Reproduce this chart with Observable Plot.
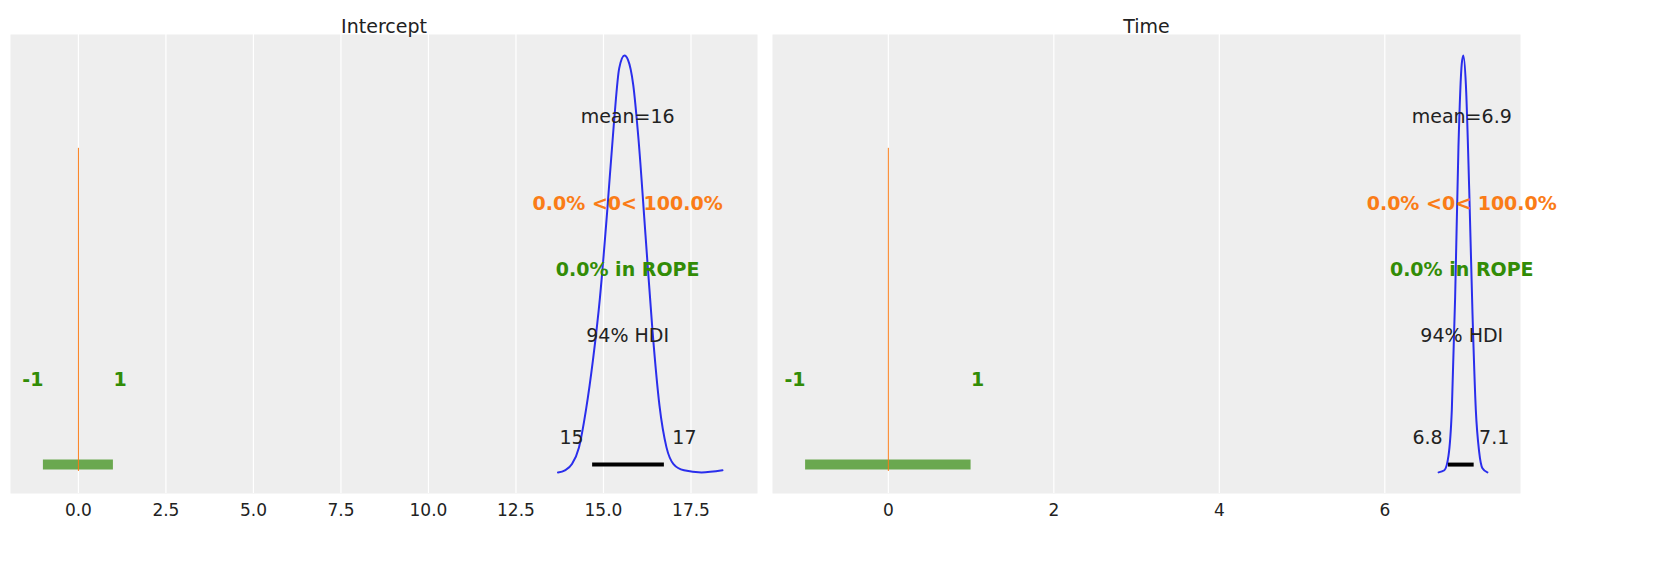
<!DOCTYPE html>
<html>
<head>
<meta charset="utf-8">
<script src="https://cdn.jsdelivr.net/npm/d3@7"></script>
<script src="https://cdn.jsdelivr.net/npm/@observablehq/plot@0.6"></script>
<style>
  body { margin: 0; background: #fff; }
  #wrap { display: flex; }
  svg { font-family: "DejaVu Sans", sans-serif; overflow: visible; }
</style>
</head>
<body>
<div id="wrap"></div>
<script>
// density curves (x, relative height)
const interceptDensity = [
  [13.7, 0.0], [13.9, 0.005], [14.1, 0.02], [14.3, 0.06], [14.5, 0.15], [14.7, 0.27],
  [14.9, 0.42], [15.1, 0.62], [15.3, 0.84], [15.45, 0.97], [15.6, 1.0], [15.7, 0.99],
  [15.85, 0.93], [16.0, 0.8], [16.2, 0.57], [16.4, 0.34], [16.6, 0.16], [16.8, 0.06],
  [17.0, 0.02], [17.3, 0.005], [17.8, 0.0], [18.4, 0.005]
];
const timeDensity = [
  [6.65, 0.0], [6.72, 0.005], [6.77, 0.04], [6.81, 0.15], [6.85, 0.42], [6.89, 0.78],
  [6.93, 0.98], [6.95, 1.0], [6.98, 0.93], [7.02, 0.68], [7.06, 0.38], [7.1, 0.15],
  [7.14, 0.05], [7.18, 0.01], [7.24, 0.0]
];
const panels = ["Intercept", "Time"];
const means = [15.69, 6.93];
const meanLabels = ["mean=16", "mean=6.9"];
const hdiLow = [14.69, 6.77];
const hdiHigh = [16.74, 7.08];
const hdiLowLabels = ["15", "6.8"];
const hdiHighLabels = ["17", "7.1"];
const rope = [-1, 1];
const refLabel = "0.0% <0< 100.0%";
const ropeLabel = "0.0% in ROPE";
const xDomains = [[-1.94, 19.4], [-1.4, 7.64]];
const xTicks = [[0, 2.5, 5, 7.5, 10, 12.5, 15, 17.5], [0, 2, 4, 6]];
const densities = [interceptDensity, timeDensity];

const blue = "#2a2eec", orange = "#fa7c17", green = "#328c06", ink = "#222";

function panel(i, width, ml, mr) {
  const dens = densities[i].map(([x, d]) => ({x, y: 0.046 + 0.908 * d}));
  return Plot.plot({
    width, height: 563,
    marginLeft: ml, marginRight: mr, marginTop: 34, marginBottom: 70,
    x: {domain: xDomains[i]},
    y: {domain: [0, 1], axis: null},
    style: {fontSize: "17px", color: ink, overflow: "visible"},
    marks: [
      Plot.frame({fill: "#eeeeee", stroke: null}),
      Plot.gridX(xTicks[i], {stroke: "#fff", strokeOpacity: 1, strokeWidth: 1.2}),
      Plot.axisX(xTicks[i], {tickSize: 0, tickPadding: 10, fontSize: 17, fill: ink,
        tickFormat: i === 0 ? d3.format(".1f") : d3.format("d"), label: null}),
      Plot.text([panels[i]], {frameAnchor: "top", dy: -15, fontSize: 19, fill: ink}),
      Plot.ruleY([0.063], {x1: rope[0], x2: rope[1], stroke: "#6aa84f", strokeWidth: 10}),
      Plot.text([rope[0]], {x: d => d, y: 0.248, text: d => String(d), textAnchor: "end",
        fill: green, fontWeight: "bold", fontSize: 19}),
      Plot.text([rope[1]], {x: d => d, y: 0.248, text: d => String(d), textAnchor: "start",
        fill: green, fontWeight: "bold", fontSize: 19}),
      Plot.ruleX([0], {y1: 0.048, y2: 0.752, stroke: orange, strokeWidth: 1}),
      Plot.line(dens, {x: "x", y: "y", stroke: blue, strokeWidth: 2, curve: "monotone-x"}),
      Plot.ruleY([0.063], {x1: hdiLow[i], x2: hdiHigh[i], stroke: "#000", strokeWidth: 4}),
      Plot.text([hdiLowLabels[i]], {x: hdiLow[i], y: 0.122, dx: -21, fill: ink, fontSize: 19}),
      Plot.text([hdiHighLabels[i]], {x: hdiHigh[i], y: 0.122, dx: 20, fill: ink, fontSize: 19}),
      Plot.text([meanLabels[i]], {x: means[i], y: 0.821, fill: ink, fontSize: 19}),
      Plot.text([refLabel], {x: means[i], y: 0.632, fill: orange, fontWeight: "bold", fontSize: 19}),
      Plot.text([ropeLabel], {x: means[i], y: 0.488, fill: green, fontWeight: "bold", fontSize: 19}),
      Plot.text(["94% HDI"], {x: means[i], y: 0.344, fill: ink, fontSize: 19})
    ]
  });
}

const wrap = document.getElementById("wrap");
wrap.append(panel(0, 765, 10, 8));
wrap.append(panel(1, 763, 7, 8));
</script>
</body>
</html>
